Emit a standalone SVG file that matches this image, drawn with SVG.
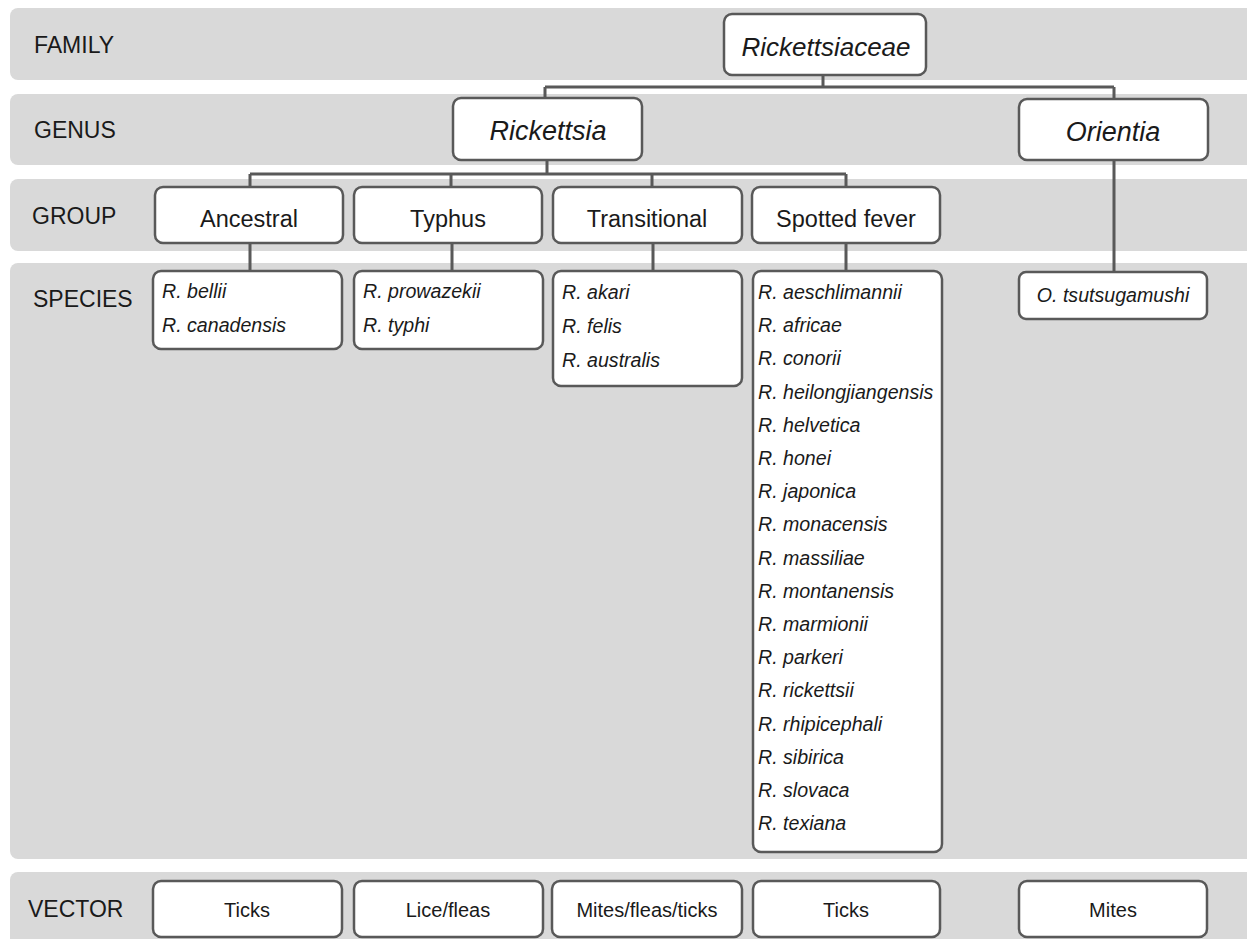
<svg xmlns="http://www.w3.org/2000/svg" width="1247" height="939" viewBox="0 0 1247 939">
<style>
.band{fill:#d9d9d9}
.box{fill:#ffffff;stroke:#595959;stroke-width:2.5}
.lbl{font-family:"Liberation Sans",Arial,sans-serif;font-size:23px;fill:#1a1a1a}
.grp{font-family:"Liberation Sans",Arial,sans-serif;font-size:23.5px;fill:#1a1a1a;text-anchor:middle}
.gen{font-family:"Liberation Sans",Arial,sans-serif;font-size:27px;font-style:italic;fill:#1a1a1a;text-anchor:middle}
.sp{font-family:"Liberation Sans",Arial,sans-serif;font-size:19.6px;font-style:italic;fill:#1a1a1a}
.vec{font-family:"Liberation Sans",Arial,sans-serif;font-size:20px;fill:#1a1a1a;text-anchor:middle}
.con{fill:none;stroke:#595959;stroke-width:3}
</style>
<rect width="1247" height="939" fill="#ffffff"/>
<g id="bands">
<rect class="band" x="10" y="8" width="1250" height="72" rx="8"/>
<rect class="band" x="10" y="94" width="1250" height="71" rx="8"/>
<rect class="band" x="10" y="179" width="1250" height="72" rx="8"/>
<rect class="band" x="10" y="263" width="1250" height="596" rx="8"/>
<rect class="band" x="10" y="872" width="1250" height="80" rx="8"/>
<text class="lbl" x="34" y="53">FAMILY</text>
<text class="lbl" x="34" y="138">GENUS</text>
<text class="lbl" x="32" y="224">GROUP</text>
<text class="lbl" x="33" y="307">SPECIES</text>
<text class="lbl" x="28" y="917">VECTOR</text>
</g>
<g id="connectors">
<path class="con" d="M823 75 V87 M545 87 H1114 M545 87 V98 M1114 87 V99"/>
<path class="con" d="M547 160 V174 M250 174 H846 M250 174 V187 M451 174 V187 M652 174 V187 M846 174 V187"/>
<path class="con" d="M250 243 V271 M452 243 V271 M653 243 V271 M846 243 V271 M1114 160 V272"/>
</g>
<g id="family-rickettsiaceae">
<rect class="box" x="724" y="14" width="202" height="61" rx="8"/>
<text class="gen" x="826" y="56" style="font-size:26px">Rickettsiaceae</text>
</g>
<g id="genus-rickettsia">
<rect class="box" x="453" y="98" width="189" height="62" rx="8"/>
<text class="gen" x="548" y="140">Rickettsia</text>
</g>
<g id="genus-orientia">
<rect class="box" x="1019" y="99" width="189" height="61" rx="8"/>
<text class="gen" x="1113" y="141">Orientia</text>
</g>
<g id="group-ancestral">
<rect class="box" x="155" y="187" width="188" height="56" rx="8"/>
<text class="grp" x="249" y="227">Ancestral</text>
</g>
<g id="group-typhus">
<rect class="box" x="354" y="187" width="188" height="56" rx="8"/>
<text class="grp" x="448" y="227">Typhus</text>
</g>
<g id="group-transitional">
<rect class="box" x="553" y="187" width="189" height="56" rx="8"/>
<text class="grp" x="647" y="227">Transitional</text>
</g>
<g id="group-spotted">
<rect class="box" x="752" y="187" width="188" height="56" rx="8"/>
<text class="grp" x="846" y="227">Spotted fever</text>
</g>
<g id="species-ancestral">
<rect class="box" x="153" y="271" width="189" height="78" rx="8"/>
<text class="sp" x="162" y="298">R. bellii</text>
<text class="sp" x="162" y="332">R. canadensis</text>
</g>
<g id="species-typhus">
<rect class="box" x="354" y="271" width="189" height="78" rx="8"/>
<text class="sp" x="363" y="298">R. prowazekii</text>
<text class="sp" x="363" y="332">R. typhi</text>
</g>
<g id="species-transitional">
<rect class="box" x="553" y="271" width="189" height="115" rx="8"/>
<text class="sp" x="562" y="299">R. akari</text>
<text class="sp" x="562" y="333">R. felis</text>
<text class="sp" x="562" y="367">R. australis</text>
</g>
<g id="species-spotted">
<rect class="box" x="753" y="271" width="189" height="581" rx="8"/>
<text class="sp" x="758" y="299">R. aeschlimannii</text>
<text class="sp" x="758" y="332.2">R. africae</text>
<text class="sp" x="758" y="365.4">R. conorii</text>
<text class="sp" x="758" y="398.6">R. heilongjiangensis</text>
<text class="sp" x="758" y="431.8">R. helvetica</text>
<text class="sp" x="758" y="465">R. honei</text>
<text class="sp" x="758" y="498.2">R. japonica</text>
<text class="sp" x="758" y="531.4">R. monacensis</text>
<text class="sp" x="758" y="564.6">R. massiliae</text>
<text class="sp" x="758" y="597.8">R. montanensis</text>
<text class="sp" x="758" y="631">R. marmionii</text>
<text class="sp" x="758" y="664.2">R. parkeri</text>
<text class="sp" x="758" y="697.4">R. rickettsii</text>
<text class="sp" x="758" y="730.6">R. rhipicephali</text>
<text class="sp" x="758" y="763.8">R. sibirica</text>
<text class="sp" x="758" y="797">R. slovaca</text>
<text class="sp" x="758" y="830.2">R. texiana</text>
</g>
<g id="species-orientia">
<rect class="box" x="1019" y="272" width="188" height="47" rx="7"/>
<text class="sp" x="1113" y="302" text-anchor="middle">O. tsutsugamushi</text>
</g>
<g id="vector-ancestral">
<rect class="box" x="153" y="881" width="189" height="56" rx="8"/>
<text class="vec" x="247" y="917">Ticks</text>
</g>
<g id="vector-typhus">
<rect class="box" x="354" y="881" width="189" height="56" rx="8"/>
<text class="vec" x="448" y="917">Lice/fleas</text>
</g>
<g id="vector-transitional">
<rect class="box" x="552" y="881" width="190" height="56" rx="8"/>
<text class="vec" x="647" y="917">Mites/fleas/ticks</text>
</g>
<g id="vector-spotted">
<rect class="box" x="753" y="881" width="187" height="56" rx="8"/>
<text class="vec" x="846" y="917">Ticks</text>
</g>
<g id="vector-orientia">
<rect class="box" x="1019" y="881" width="188" height="56" rx="8"/>
<text class="vec" x="1113" y="917">Mites</text>
</g>
</svg>
